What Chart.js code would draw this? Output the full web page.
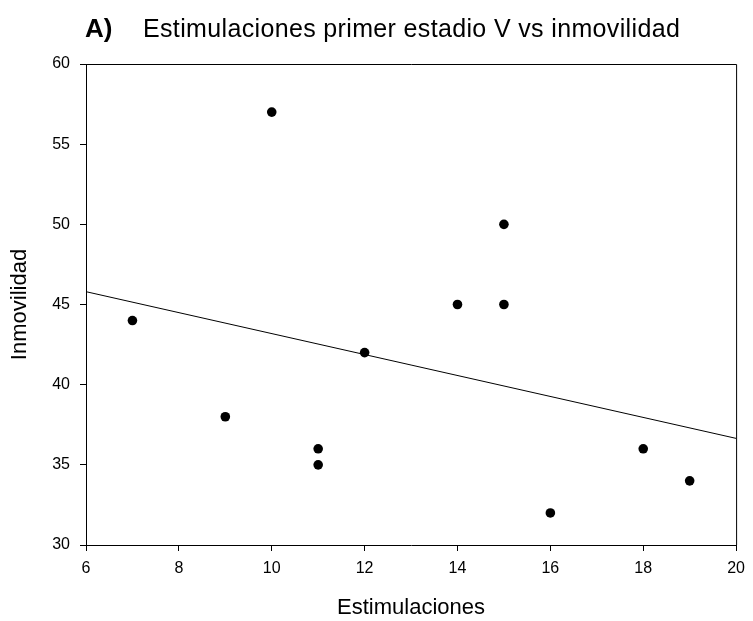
<!DOCTYPE html>
<html>
<head>
<meta charset="utf-8">
<script src="https://cdn.jsdelivr.net/npm/chart.js@4"></script>
<style>
  body { margin: 0; background: #fff; }
  #wrap { position: relative; width: 753px; height: 621px; }
</style>
</head>
<body>
<div id="wrap"><canvas id="chart" width="753" height="621"></canvas></div>
<script>
// values
const stimulations = [7, 9, 10, 11, 11, 12, 14, 15, 15, 16, 18, 19];
const immobility = [44, 38, 57, 36, 35, 42, 45, 50, 45, 32, 36, 34];
// regression line endpoints (at x = 6 and x = 20)
const fitX = [6, 20];
const fitY = [45.8, 36.65];

const titleLabel = 'A)';
const titleText = 'Estimulaciones primer estadio V vs inmovilidad';
const xTitle = 'Estimulaciones';
const yTitle = 'Inmovilidad';

const FONT = '"Liberation Sans", Arial, sans-serif';

// top + right frame lines and the heading
const framePlugin = {
  id: 'frame',
  afterDraw(chart) {
    const { ctx, chartArea: a } = chart;
    ctx.save();
    ctx.strokeStyle = '#000';
    ctx.lineWidth = 1;
    ctx.beginPath();
    ctx.moveTo(a.left, a.top + 0.5);
    ctx.lineTo(a.right + 0.5, a.top + 0.5);
    ctx.lineTo(a.right + 0.5, a.bottom);
    ctx.stroke();

    ctx.fillStyle = '#000';
    ctx.textBaseline = 'alphabetic';
    ctx.font = 'bold 26px ' + FONT;
    ctx.fillText(titleLabel, 85, 37);
    ctx.font = '25px ' + FONT;
    ctx.letterSpacing = '0.35px';
    ctx.fillText(titleText, 143, 37);
    ctx.restore();
  }
};

const points = stimulations.map((x, i) => ({ x: x, y: immobility[i] }));
const fitLine = fitX.map((x, i) => ({ x: x, y: fitY[i] }));

new Chart(document.getElementById('chart'), {
  type: 'scatter',
  data: {
    datasets: [{
      data: points,
      backgroundColor: '#000',
      borderColor: '#000',
      pointRadius: 4.8,
      pointBorderWidth: 0
    }, {
      type: 'line',
      data: fitLine,
      borderColor: '#000',
      borderWidth: 1,
      pointRadius: 0,
      fill: false
    }]
  },
  options: {
    responsive: false,
    animation: false,
    layout: { padding: { top: 64, right: 10, left: 0, bottom: 0 } },
    plugins: {
      legend: { display: false },
      tooltip: { enabled: false }
    },
    scales: {
      x: {
        type: 'linear',
        min: 6,
        max: 20,
        ticks: { stepSize: 2, color: '#000', padding: 8, font: { family: FONT, size: 16 } },
        grid: { drawOnChartArea: false, tickLength: 6, color: '#000' },
        border: { color: '#000', width: 1 },
        title: { display: true, text: xTitle, color: '#000', padding: 0, font: { family: FONT, size: 22 } },
        afterFit(scale) { scale.height = 76; }
      },
      y: {
        min: 30,
        max: 60,
        ticks: { stepSize: 5, color: '#000', padding: 10, font: { family: FONT, size: 16 } },
        grid: { drawOnChartArea: false, tickLength: 6, color: '#000' },
        border: { color: '#000', width: 1 },
        title: { display: true, text: yTitle, color: '#000', padding: { top: 7, bottom: 0 }, font: { family: FONT, size: 22 } },
        afterFit(scale) { scale.width = 86; }
      }
    }
  },
  plugins: [framePlugin]
});
</script>
</body>
</html>
